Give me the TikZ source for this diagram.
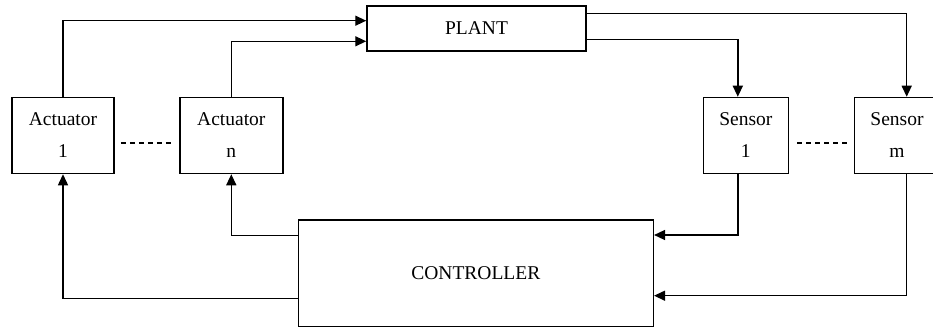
\documentclass[tikz,border=0pt]{standalone}
\usepackage{fontspec}
\setmainfont{Liberation Serif}
\usetikzlibrary{arrows.meta}
\tikzset{
  block/.style={draw,line width=1.5pt,inner sep=0pt,align=center,
    font=\fontsize{19.5}{32}\selectfont},
  link/.style={-{Triangle[length=11pt,width=10pt]},line width=1.4pt},
  gap/.style={line width=1.3pt,dash pattern=on 5pt off 4pt},
}
\begin{document}
\begin{tikzpicture}[x=1pt,y=-1pt]
\useasboundingbox(0,0)rectangle(933,331);
\node[block,minimum width=219pt,minimum height=45pt](plant)at(476.5,28.5){PLANT};
\node[block,minimum width=102pt,minimum height=76pt](act1)at(63,135.5){Actuator\\1};
\node[block,minimum width=103pt,minimum height=76pt](actn)at(231.3,135.5){Actuator\\n};
\node[block,minimum width=85pt,minimum height=76pt](sen1)at(745.8,135.5){Sensor\\1};
\node[block,minimum width=85pt,minimum height=76pt](senm)at(897,135.5){Sensor\\m};
\node[block,minimum width=355pt,minimum height=106.7pt](ctrl)at(475.8,273.3){CONTROLLER};
\draw[link](act1.north)|-([yshift=7.8pt]plant.west);
\draw[link](actn.north)|-([yshift=-12.8pt]plant.west);
\draw[link]([yshift=15.2pt]plant.east)-|([xshift=9.7pt]senm.north);
\draw[link]([yshift=-10.8pt]plant.east)-|([xshift=-8pt]sen1.north);
\draw[link]([xshift=-8pt]sen1.south)|-([yshift=38.3pt]ctrl.east);
\draw[link]([xshift=9.7pt]senm.south)|-([yshift=-22.4pt]ctrl.east);
\draw[link]([yshift=38pt]ctrl.west)-|(actn.south);
\draw[link]([yshift=-25.4pt]ctrl.west)-|(act1.south);
\draw[gap,shorten <=6pt,shorten >=8pt]([yshift=-7.5pt]act1.east)--([yshift=-7.5pt]actn.west);
\draw[gap,shorten <=8pt,shorten >=6pt]([yshift=-7.5pt]sen1.east)--([yshift=-7.5pt]senm.west);
\end{tikzpicture}
\end{document}
